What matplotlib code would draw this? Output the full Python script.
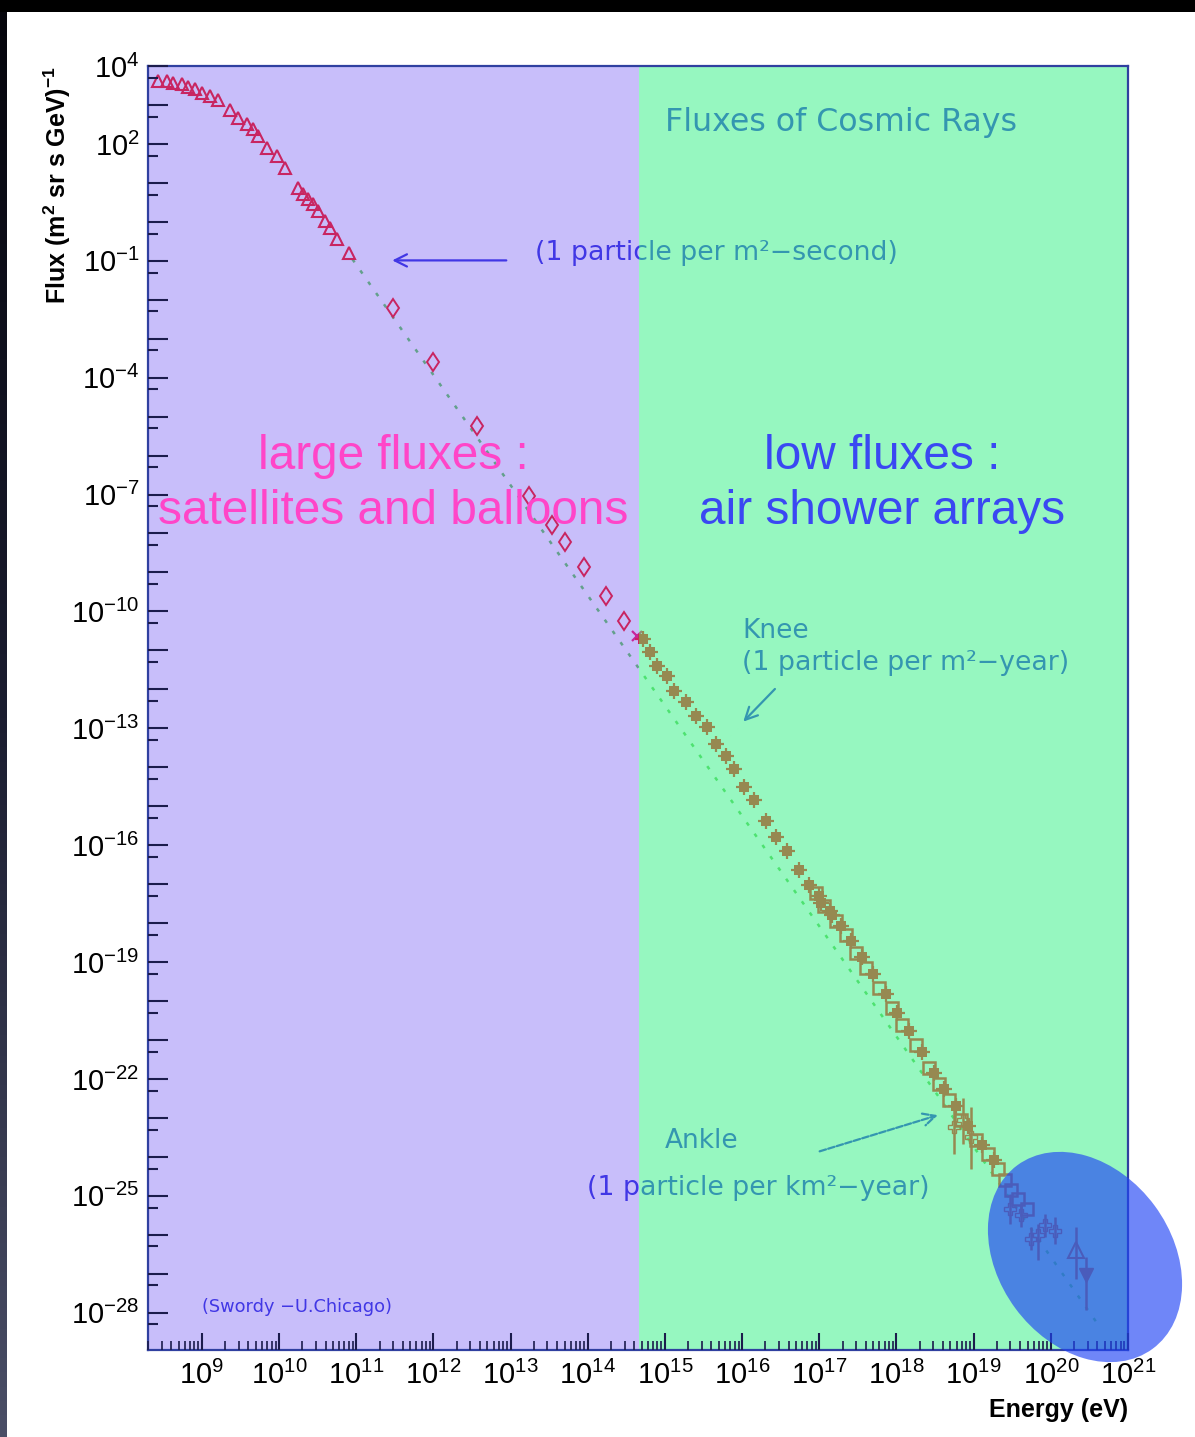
import numpy as np
import matplotlib
matplotlib.use('Agg')
import matplotlib.pyplot as plt
from matplotlib.patches import Ellipse, Rectangle
from matplotlib.ticker import FixedLocator, LogLocator, FuncFormatter, NullFormatter

plt.rcParams['font.family'] = ['Liberation Sans', 'DejaVu Sans']
plt.rcParams['mathtext.fontset'] = 'custom'
plt.rcParams['mathtext.rm'] = 'Liberation Sans'
plt.rcParams['mathtext.bf'] = 'Liberation Sans:bold'
plt.rcParams['mathtext.it'] = 'Liberation Sans:italic'

# ---------------- data (log10 of energy in eV, log10 of flux) ----------------
# satellite / balloon data (open triangles)
tri_logE = [8.43, 8.55, 8.62, 8.74, 8.82, 8.91, 9.00, 9.10, 9.21, 9.36, 9.47, 9.58, 9.66,
            9.72, 9.84, 9.97, 10.07, 10.24, 10.31, 10.37, 10.44, 10.50, 10.59, 10.66, 10.75, 10.91]
tri_logF = [3.61, 3.61, 3.56, 3.53, 3.46, 3.41, 3.30, 3.23, 3.13, 2.87, 2.66, 2.51, 2.38,
            2.20, 1.90, 1.69, 1.39, 0.87, 0.72, 0.59, 0.46, 0.28, 0.03, -0.15, -0.43, -0.81]
# open diamonds
dia_logE = [11.47, 11.99, 12.56, 13.24, 13.54, 13.70, 13.95, 14.24, 14.47]
dia_logF = [-2.22, -3.60, -5.24, -7.03, -7.77, -8.23, -8.87, -9.61, -10.25]
# single cross point
crs_logE = [14.64]
crs_logF = [-10.63]
# knee region (air shower arrays)
knee_logE = [14.71, 14.80, 14.90, 15.02, 15.12, 15.27, 15.40, 15.55, 15.66, 15.79, 15.90,
             16.02, 16.15, 16.31, 16.44, 16.58, 16.74, 16.87, 17.02, 17.16]
knee_logF = [-10.71, -11.04, -11.40, -11.66, -12.04, -12.32, -12.68, -12.96, -13.40, -13.70,
             -14.04, -14.50, -14.85, -15.37, -15.78, -16.16, -16.64, -17.03, -17.49, -17.80]
# high energy band, experiment A (open squares)
hiA_logE = [16.96, 17.06, 17.21, 17.34, 17.47, 17.60, 17.77, 17.94, 18.07, 18.25, 18.42,
            18.55, 18.68, 18.84, 19.03, 19.19, 19.32, 19.41, 19.49, 19.58, 19.69]
hiA_logF = [-17.23, -17.57, -17.95, -18.31, -18.77, -19.15, -19.66, -20.17, -20.61, -21.12,
            -21.71, -22.14, -22.55, -23.06, -23.58, -23.93, -24.32, -24.60, -24.85, -25.08, -25.34]
# high energy band, experiment B (filled)
hiB_logE = [17.00, 17.14, 17.28, 17.41, 17.55, 17.69, 17.86, 18.01, 18.16, 18.33, 18.49,
            18.62, 18.77, 18.93, 19.11, 19.26]
hiB_logF = [-17.30, -17.70, -18.08, -18.45, -18.88, -19.30, -19.82, -20.30, -20.78, -21.30,
            -21.85, -22.25, -22.70, -23.20, -23.70, -24.08]
# ultra-high energy points with error bars
uhe_logE = [18.75, 18.86, 18.96, 19.47, 19.61, 19.74, 19.83, 19.93, 20.05]
uhe_logF = [-23.24, -23.06, -23.50, -25.34, -25.50, -26.10, -26.00, -25.76, -25.90]
uhe_lo = [-23.93, -23.68, -24.32, -25.72, -25.80, -26.39, -26.64, -26.06, -26.24]
uhe_hi = [-22.81, -22.48, -22.73, -24.96, -25.21, -25.80, -25.72, -25.47, -25.55]
# highest energy points (triangle up / triangle down)
top_logE = [20.32, 20.46]
top_logF = [-26.39, -27.03]
top_lo = [-27.13, -27.92]
top_hi = [-25.80, -26.57]
# power-law guide line
fit_logE = [10.95, 20.60]
fit_logF = [-0.96, -28.27]

E_MIN, E_MAX = 2e8, 1e21
F_MIN, F_MAX = 1.1e-29, 1e4
E_SPLIT = 4.65e14

x_major_exp = list(range(9, 22))
y_major_exp = list(range(-29, 5))
y_label_exp = [4, 2, -1, -4, -7, -10, -13, -16, -19, -22, -25, -28]

# ---------------- colours ----------------
ROOT_RED = '#ff0000'
ROOT_BLUE = '#1e1edc'
LINE_GREEN = '#58cd48'
PURPLE = '#765df3'
GREEN = '#46f290'

W, H = 1195, 1437
fig = plt.figure(figsize=(W / 100, H / 100), dpi=100)
fig.patch.set_facecolor('white')
L, R, T, B = 148, 1128, 66, 1350
ax = fig.add_axes([L / W, (H - B) / H, (R - L) / W, (B - T) / H])
ax.set_facecolor('white')
ax.set_xscale('log')
ax.set_yscale('log')
ax.set_xlim(E_MIN, E_MAX)
ax.set_ylim(F_MIN, F_MAX)


def p(a):
    return 10.0 ** np.asarray(a, dtype=float)


ax.plot(p(fit_logE), p(fit_logF), color=LINE_GREEN, lw=1.8, ls=(0, (1.5, 4)), zorder=1)
ax.plot(p(tri_logE), p(tri_logF), ls='none', marker='^', ms=9, mfc='none', mec=ROOT_RED,
        mew=1.5, zorder=1.2)
ax.plot(p(dia_logE), p(dia_logF), ls='none', marker='d', ms=9.5, mfc='none', mec=ROOT_RED,
        mew=1.4, zorder=1.2)
ax.plot(p(crs_logE), p(crs_logF), ls='none', marker='x', ms=7, mec='#ff0060', mew=1.6, zorder=1.2)
# knee: filled squares with small error arms
ax.plot(p(knee_logE), p(knee_logF), ls='none', marker='s', ms=6.5, color=ROOT_RED, mew=0, zorder=1.2)
ax.plot(p(knee_logE), p(knee_logF), ls='none', marker='+', ms=12, mec=ROOT_RED, mew=1.6, zorder=1.2)
ax.plot(p(hiB_logE), p(hiB_logF), ls='none', marker='s', ms=7, color=ROOT_RED, mew=0, zorder=1.2)
ax.plot(p(hiB_logE), p(hiB_logF), ls='none', marker='+', ms=12, mec=ROOT_RED, mew=1.6, zorder=1.2)
ax.plot(p(hiA_logE), p(hiA_logF), ls='none', marker='s', ms=8, mfc='none', mec=ROOT_RED,
        mew=1.8, zorder=1.2)

uy = p(uhe_logF)
ax.errorbar(p(uhe_logE), uy, yerr=[uy - p(uhe_lo), p(uhe_hi) - uy], fmt='P', ms=8, mfc='none',
            mec=ROOT_RED, ecolor=ROOT_RED, elinewidth=1.8, capsize=0, zorder=1.2)
ty = p(top_logF)
ax.errorbar(p(top_logE[:1]), ty[:1], yerr=[ty[:1] - p(top_lo[:1]), p(top_hi[:1]) - ty[:1]],
            fmt='^', ms=11, mfc='none', mec=ROOT_RED, mew=1.5, ecolor=ROOT_RED,
            elinewidth=1.8, capsize=0, zorder=1.2)
ax.errorbar(p(top_logE[1:]), ty[1:], yerr=[ty[1:] - p(top_lo[1:]), p(top_hi[1:]) - ty[1:]],
            fmt='v', ms=10, color=ROOT_RED, ecolor=ROOT_RED, elinewidth=1.8, capsize=0, zorder=1.2)


def axf(px, py):
    return ((px - L) / (R - L), (B - py) / (B - T))


rootfont = dict(family='DejaVu Sans', color=ROOT_BLUE, zorder=1.5, va='center', ha='left',
                transform=ax.transAxes)
ax.text(*axf(665, 123), 'Fluxes of Cosmic Rays', fontsize=22.8, **rootfont)
ax.text(*axf(535, 253), '(1 particle per m\u00b2\u2212second)', fontsize=19.3, **rootfont)
ax.text(*axf(742, 631), 'Knee', fontsize=19, **rootfont)
ax.text(*axf(742, 663), '(1 particle per m\u00b2\u2212year)', fontsize=19.3, **rootfont)
ax.text(*axf(665, 1141), 'Ankle', fontsize=19, **rootfont)
ax.text(*axf(587, 1188), '(1 particle per km\u00b2\u2212year)', fontsize=19.3, **rootfont)
ax.text(*axf(202, 1307), '(Swordy \u2212U.Chicago)', fontsize=12.8, **rootfont)

arrow_kw = dict(arrowstyle='->', color=ROOT_BLUE, lw=1.6, mutation_scale=22)
ax.annotate('', xy=(p(11.43), p(-0.99)), xytext=(p(12.98), p(-0.99)), arrowprops=arrow_kw, zorder=1.5)
ax.annotate('', xy=(p(15.99), p(-12.88)), xytext=(p(16.45), p(-11.94)), arrowprops=arrow_kw, zorder=1.5)
ax.annotate('', xy=(p(18.57), p(-22.91)), xytext=(p(16.97), p(-23.88)),
            arrowprops=dict(arrow_kw, ls=(0, (3, 1))), zorder=1.5)

# coloured translucent regions
ax.axvspan(E_MIN, E_SPLIT, color=PURPLE, alpha=0.40, lw=0, zorder=2)
ax.axvspan(E_SPLIT, E_MAX, color=GREEN, alpha=0.57, lw=0, zorder=2)

big = dict(fontsize=34.4, ha='center', va='center', transform=ax.transAxes, zorder=3,
           family='Liberation Sans', linespacing=1.31)
ax.text(*axf(393, 484), 'large fluxes :\nsatellites and balloons', color='#ff45c8', **big)
ax.text(*axf(882, 484), 'low fluxes :\nair shower arrays', color='#3a48f2', **big)

# axes / ticks
ax.set_axisbelow(False)
ax.xaxis.set_major_locator(FixedLocator(p(x_major_exp)))
ax.xaxis.set_minor_locator(LogLocator(base=10, subs=np.arange(2, 10), numticks=200))
ax.xaxis.set_minor_formatter(NullFormatter())
ax.xaxis.set_major_formatter(FuncFormatter(
    lambda v, pos: r'$\mathdefault{10^{%d}}$' % int(round(np.log10(v)))))
ax.yaxis.set_major_locator(FixedLocator(p(y_major_exp)))
ax.yaxis.set_minor_locator(LogLocator(base=10, subs=(5,), numticks=200))
ax.yaxis.set_minor_formatter(NullFormatter())


def yfmt(v, pos):
    e = int(round(np.log10(v)))
    return r'$\mathdefault{10^{%d}}$' % e if e in y_label_exp else ''


ax.yaxis.set_major_formatter(FuncFormatter(yfmt))
tick_col = '#1c1c4c'
ax.tick_params(axis='both', which='both', direction='in', top=False, right=False,
               colors=tick_col, labelcolor='black')
ax.tick_params(axis='y', which='major', length=14.4, width=1.5, pad=6, labelsize=21)
ax.tick_params(axis='y', which='minor', length=7.2, width=1.5)
ax.tick_params(axis='x', which='major', length=12.5, width=1.5, pad=8, labelsize=21)
ax.tick_params(axis='x', which='minor', length=6.5, width=1.2)
for s in ax.spines.values():
    s.set_color('#3040a0')
    s.set_linewidth(1.6)

ax.set_ylabel(r'Flux (m$^{\mathbf{2}}$ sr s GeV)$^{\mathbf{-1}}$', fontsize=18, fontweight='bold')
ax.yaxis.set_label_coords((57 - L) / (R - L), axf(0, 185)[1])
ax.yaxis.label.set_va('center')
ax.set_xlabel('Energy (eV)', fontsize=18, fontweight='bold')
ax.xaxis.set_label_coords(1.0, axf(0, 1410)[1])
ax.xaxis.label.set_ha('right')
ax.xaxis.label.set_va('center')

# figure-level overlay: dark frame and highlight ellipse
ov = fig.add_axes([0, 0, 1, 1], zorder=10)
ov.set_xlim(0, W)
ov.set_ylim(H, 0)
ov.axis('off')
ov.patch.set_alpha(0)
grad = np.linspace(0, 1, 200)[:, None]
ov.imshow(grad, cmap=matplotlib.colors.LinearSegmentedColormap.from_list(
    'edge', ['#05050c', '#1b1d30', '#4a4e66']), extent=[0, 7, H, 0], aspect='auto', zorder=1)
ov.add_patch(Rectangle((0, 0), W, 12, color='black', lw=0, zorder=2))
ov.add_patch(Ellipse((1085, 1257), 228, 173, angle=53.6, color='#2245f5', alpha=0.65, lw=0, zorder=3))
ov.set_xlim(0, W)
ov.set_ylim(H, 0)

fig.savefig('out.png', dpi=100, facecolor='white')
